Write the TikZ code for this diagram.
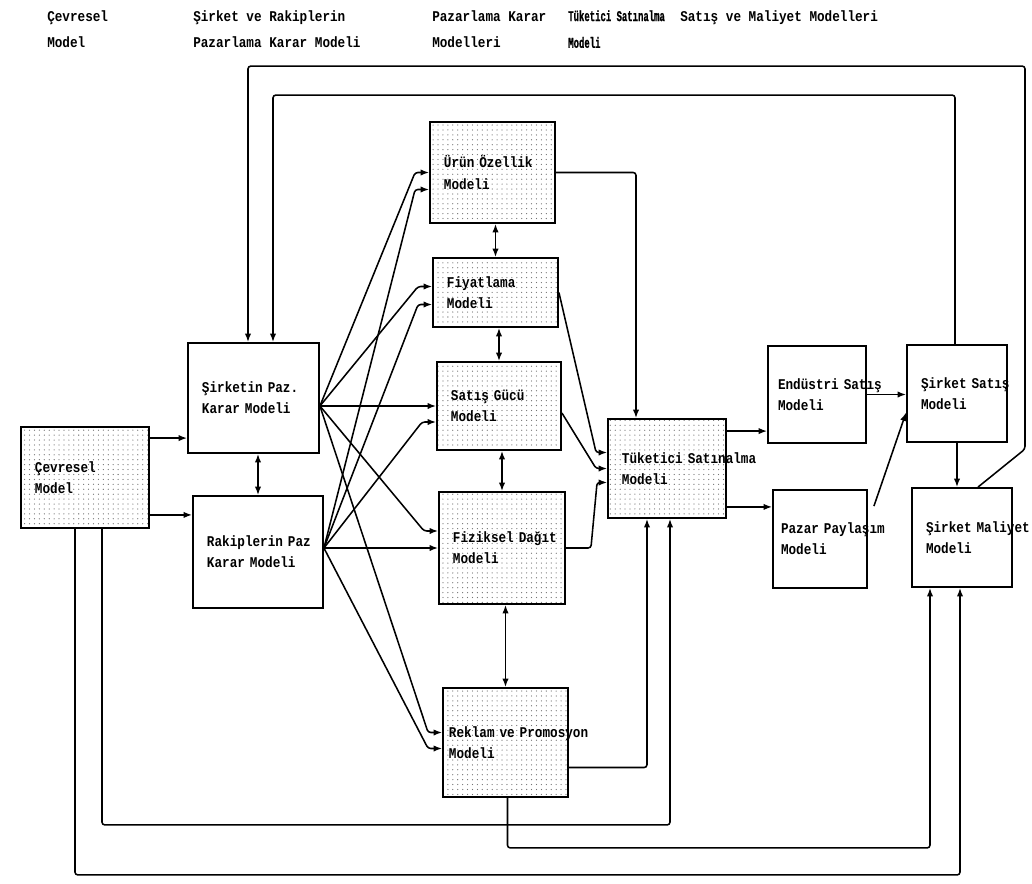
\documentclass[tikz,border=0pt]{standalone}
\usepackage{fontspec}
\setmonofont{Liberation Mono}[FakeStretch=0.85]
\newfontfamily\narrowmono{Liberation Mono Bold}[FakeStretch=0.6, FakeBold=0.8]
\usetikzlibrary{arrows.meta, calc, patterns.meta}
\tikzset{>={Latex[length=6pt, width=4.5pt]}}
\tikzset{
  model/.style={draw, line width=1.3pt, inner xsep=0.35cm, inner ysep=0pt, align=left,
    font=\ttfamily\bfseries\fontsize{10.6}{15}\selectfont},
  % the stippled (shaded) boxes of the scan
  speckled/.style={pattern={Dots[distance=3.5pt, radius=0.45pt]}, pattern color=black!55},
  head/.style={anchor=north west, inner sep=0pt, align=left,
    font=\ttfamily\bfseries\fontsize{10.6}{19}\selectfont},
  link/.style={->, line width=1.1pt, rounded corners=2pt},
  both/.style={<->, line width=1.1pt},
}

\begin{document}
\begin{tikzpicture}[x=0.025cm, y=-0.025cm]
\useasboundingbox (0,0) rectangle (1032,883);

% column headings
\node[head] (h1) at (47,10) {Çevresel\\Model};
\node[head] (h2) at (193,10) {Şirket ve Rakiplerin\\Pazarlama Karar Modeli};
\node[head] (h3) at (432,10) {Pazarlama Karar\\Modelleri};
\node[head, font=\narrowmono\fontsize{10.6}{19}\selectfont] (h4) at (568,10) {Tüketici Satınalma\\Modeli};
\node[head] (h5) at (680,10) {Satış ve Maliyet Modelleri};

% models
\node[model, speckled, text width=2.5cm, minimum height=2.525cm] (cevre) at (85,477.5) {Çevresel\\Model};
\node[model, text width=2.575cm, minimum height=2.75cm] (sirk) at (253.5,398) {Şirketin~Paz.\\Karar~Modeli};
\node[model, text width=2.55cm, minimum height=2.8cm] (rakip) at (258,552) {Rakiplerin~Paz\\Karar~Modeli};
\node[model, speckled, text width=2.425cm, minimum height=2.525cm] (urun) at (492.5,172.5) {Ürün~Özellik\\Modeli};
\node[model, speckled, text width=2.425cm, minimum height=1.725cm] (fiyat) at (495.5,292.5) {Fiyatlama\\Modeli};
\node[model, speckled, text width=2.4cm, minimum height=2.2cm] (satis) at (499,406) {Satış~Gücü\\Modeli};
\node[model, speckled, text width=2.45cm, minimum height=2.8cm] (fizik) at (502,548) {Fiziksel~Dağıt\\Modeli};
\node[model, speckled, minimum height=2.725cm, inner xsep=0.15cm, text width=2.825cm] (reklam) at (505.5,742.5) {Reklam~ve~Promosyon\\Modeli};
\node[model, speckled, text width=2.25cm, minimum height=2.475cm] (tuket) at (667,468.5) {Tüketici~Satınalma\\Modeli};
\node[model, text width=1.95cm, minimum height=2.425cm, inner xsep=0.25cm] (endus) at (817,394.5) {Endüstri~Satış\\Modeli};
\node[model, text width=1.95cm, minimum height=2.45cm, inner xsep=0.2cm] (pazar) at (820,539) {Pazar~Paylaşım\\Modeli};
\node[model, text width=1.8cm, minimum height=2.425cm] (ssatis) at (957,393.5) {Şirket~Satış\\Modeli};
\node[model, text width=1.8cm, minimum height=2.475cm] (smal) at (962,537.5) {Şirket~Maliyet\\Modeli};

% environment to decision models
\draw[link] ($(cevre.north east)+(0,12)$) -- ($(sirk.west |- cevre.north east)+(0,12)$);
\draw[link] ($(cevre.south east)+(0,-14)$) -- ($(rakip.west |- cevre.south east)+(0,-14)$);
\draw[both] (rakip.north) -- (rakip.north |- sirk.south);

% fan from the two Paz. Karar models
\coordinate (sout) at (sirk.east |- satis.west);
\coordinate (rout) at (rakip.east |- fizik.west);
\foreach \t/\a/\b in {urun/0/17, fiyat/-6/12, satis/0/16, fizik/-17/0, reklam/-10/6}{
  \draw[link] (sout) -- ($(\t.west)+(-14,\a)$) -- ($(\t.west)+(0,\a)$);
  \draw[link] (rout) -- ($(\t.west)+(-14,\b)$) -- ($(\t.west)+(0,\b)$);
}

% marketing mix column
\draw[both] (fiyat.north) -- (fiyat.north |- urun.south);
\draw[both] (satis.north) -- (satis.north |- fiyat.south);
\draw[both] (fizik.north) -- (fizik.north |- satis.south);
\draw[both] (reklam.north) -- (reklam.north |- fizik.south);

% into the consumer model
\draw[link] (urun.east) -| ($(tuket.north)+(-31,0)$);
\draw[link] (fiyat.east) -- ($(tuket.west)+(-11,-16)$) -- ($(tuket.west)+(0,-16)$);
\draw[link] ($(satis.east)+(0,7)$) -- ($(tuket.west)+(-11,0)$) -- (tuket.west);
\draw[link] (fizik.east) -- ++(25,0) -- ($(tuket.west)+(-10,14)$) -- ($(tuket.west)+(0,14)$);
\draw[link] ($(reklam.east)+(0,25)$) -| ($(tuket.south)+(-20,0)$);
\draw[link] ($(cevre.south)+(17,0)$) -- ++(0,296) -| ($(tuket.south)+(3,0)$);

% sales and cost models
\draw[link] ($(tuket.north east)+(0,13)$) -- ($(endus.west |- tuket.north east)+(0,13)$);
\draw[link] ($(tuket.south east)+(0,-12)$) -- ($(pazar.west |- tuket.south east)+(0,-12)$);
\draw[link] (endus.east) -- (endus.east -| ssatis.west);
\draw[link] ($(pazar.north east)+(6,17)$) -- ($(ssatis.west)+(0,19)$);
\draw[link] (ssatis.south) -- (ssatis.south |- smal.north);
\draw[link] ($(reklam.south)+(2,0)$) -- ++(0,50) -| ($(smal.south)+(-32,0)$);
\draw[link] ($(cevre.south)+(-10,0)$) -- ++(0,346) -| ($(smal.south)+(-2,0)$);

% feedback loops
\draw[link] ($(ssatis.north)+(-2,0)$) -- ++(0,-249) -| ($(sirk.north)+(19.5,0)$);
\draw[link] ($(smal.north)+(16,0)$) -- ++(47,-38) -- ++(0,-383) -| ($(sirk.north)+(-5.5,0)$);
\end{tikzpicture}
\end{document}
